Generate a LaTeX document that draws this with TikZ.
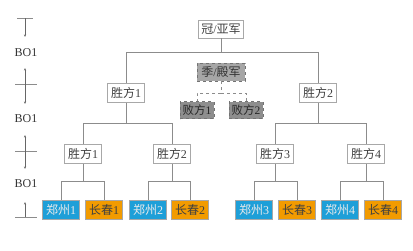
\documentclass[tikz,border=0pt]{standalone}
\usepackage{fontspec}
\usetikzlibrary{arrows.meta}
\setmainfont{Liberation Serif}
\newfontfamily\cjk{Noto Sans CJK SC}
\definecolor{lineg}{HTML}{8C8C8C}
\definecolor{boxg}{HTML}{A8A8A8}
\definecolor{zzblue}{HTML}{1E9FD8}
\definecolor{ccorange}{HTML}{F29B00}
\definecolor{thirdfill}{HTML}{A6A6A6}
\definecolor{losefill}{HTML}{8E8E8E}
\begin{document}
\begin{tikzpicture}[x=1pt,y=-1pt,
  base/.style={font=\fontsize{12}{13}\selectfont, inner sep=0pt, line width=0.7pt},
  wbox/.style={base, draw=boxg, fill=white, minimum width=37pt, minimum height=19pt, text=black!75},
  topbox/.style={wbox, minimum width=45pt, minimum height=18pt},
  thirdbox/.style={base, draw=black!55, dashed, fill=thirdfill, minimum width=48pt, minimum height=18pt, text=black!80},
  losebox/.style={base, draw=black!55, dashed, fill=losefill, minimum width=34pt, minimum height=17pt, text=black!85, font=\fontsize{11.5}{12}\selectfont},
  zzbox/.style={base, draw=boxg, fill=zzblue, minimum width=37pt, minimum height=19pt, text=white!92!black},
  ccbox/.style={base, draw=boxg, fill=ccorange, minimum width=37pt, minimum height=19pt, text=black!75},
  conn/.style={draw=lineg, line width=0.8pt},
  dconn/.style={draw=lineg, line width=0.8pt, dashed},
  tick/.style={draw=lineg, line width=0.8pt},
  arr/.style={draw=black!60, line width=0.5pt, -{Stealth[length=2.5pt,width=2pt]}},
  bo/.style={font=\fontsize{12}{13}\selectfont, text=black!80}
]
\useasboundingbox (0,0) rectangle (413,250);

% left side markers
\coordinate (t1a) at (17,18); \coordinate (t1b) at (33,18);
\coordinate (t1m) at (25,18); \coordinate (t1d) at (25,37);
\draw[tick] (t1a) -- (t1b);
\draw[arr] (t1m) -- (t1d);
\node[bo] (bo1) at (26,53) {BO1};
\coordinate (t2a) at (15,84); \coordinate (t2b) at (37,84);
\coordinate (t2m) at (25,84); \coordinate (t2u) at (25,68); \coordinate (t2d) at (25,104);
\draw[tick] (t2a) -- (t2b);
\draw[arr] (t2m) -- (t2u);
\draw[arr] (t2m) -- (t2d);
\node[bo] (bo2) at (26,119) {BO1};
\coordinate (t3a) at (15,151); \coordinate (t3b) at (37,151);
\coordinate (t3m) at (25,151); \coordinate (t3u) at (25,135); \coordinate (t3d) at (25,169);
\draw[tick] (t3a) -- (t3b);
\draw[arr] (t3m) -- (t3u);
\draw[arr] (t3m) -- (t3d);
\node[bo] (bo3) at (26,184) {BO1};
\coordinate (t4a) at (15,217); \coordinate (t4b) at (37,217);
\coordinate (t4m) at (25,217); \coordinate (t4u) at (25,202);
\draw[tick] (t4a) -- (t4b);
\draw[arr] (t4m) -- (t4u);

% nodes
\node[topbox] (champ) at (221,29) {{\cjk 冠}/{\cjk 亚军}};
\node[thirdbox] (third) at (221,72) {{\cjk 季}/{\cjk 殿军}};
\node[losebox] (lose1) at (197,110) {{\cjk 败方}1};
\node[losebox] (lose2) at (246,110) {{\cjk 败方}2};
\node[wbox] (w1) at (126,93) {{\cjk 胜方}1};
\node[wbox] (w2) at (318,93) {{\cjk 胜方}2};
\node[wbox] (s1) at (83,154) {{\cjk 胜方}1};
\node[wbox] (s2) at (172,154) {{\cjk 胜方}2};
\node[wbox] (s3) at (275,154) {{\cjk 胜方}3};
\node[wbox] (s4) at (366,154) {{\cjk 胜方}4};
\node[zzbox] (z1) at (61,209.5) {{\cjk 郑州}1};
\node[ccbox] (c1) at (104,209.5) {{\cjk 长春}1};
\node[zzbox] (z2) at (148,209.5) {{\cjk 郑州}2};
\node[ccbox] (c2) at (190,209.5) {{\cjk 长春}2};
\node[zzbox] (z3) at (254,209.5) {{\cjk 郑州}3};
\node[ccbox] (c3) at (297,209.5) {{\cjk 长春}3};
\node[zzbox] (z4) at (340,209.5) {{\cjk 郑州}4};
\node[ccbox] (c4) at (383,209.5) {{\cjk 长春}4};

% connectors
\draw[conn] (champ.south) -- ++(0,14) -| (w1.north);
\draw[conn] (champ.south) ++(0,14) -| (w2.north);
\draw[dconn] (third.south) -- ++(0,12) -| (lose1.north);
\draw[dconn] (third.south) ++(0,12) -| (lose2.north);
\draw[conn] (w1.south) -- ++(0,21) -| (s1.north);
\draw[conn] (w1.south) ++(0,21) -| (s2.north);
\draw[conn] (w2.south) -- ++(0,21) -| (s3.north);
\draw[conn] (w2.south) ++(0,21) -| (s4.north);
\draw[conn] (s1.south) -- ++(0,18) -| (z1.north);
\draw[conn] (s1.south) ++(0,18) -| (c1.north);
\draw[conn] (s2.south) -- ++(0,18) -| (z2.north);
\draw[conn] (s2.south) ++(0,18) -| (c2.north);
\draw[conn] (s3.south) -- ++(0,18) -| (z3.north);
\draw[conn] (s3.south) ++(0,18) -| (c3.north);
\draw[conn] (s4.south) -- ++(0,18) -| (z4.north);
\draw[conn] (s4.south) ++(0,18) -| (c4.north);
\end{tikzpicture}
\end{document}
